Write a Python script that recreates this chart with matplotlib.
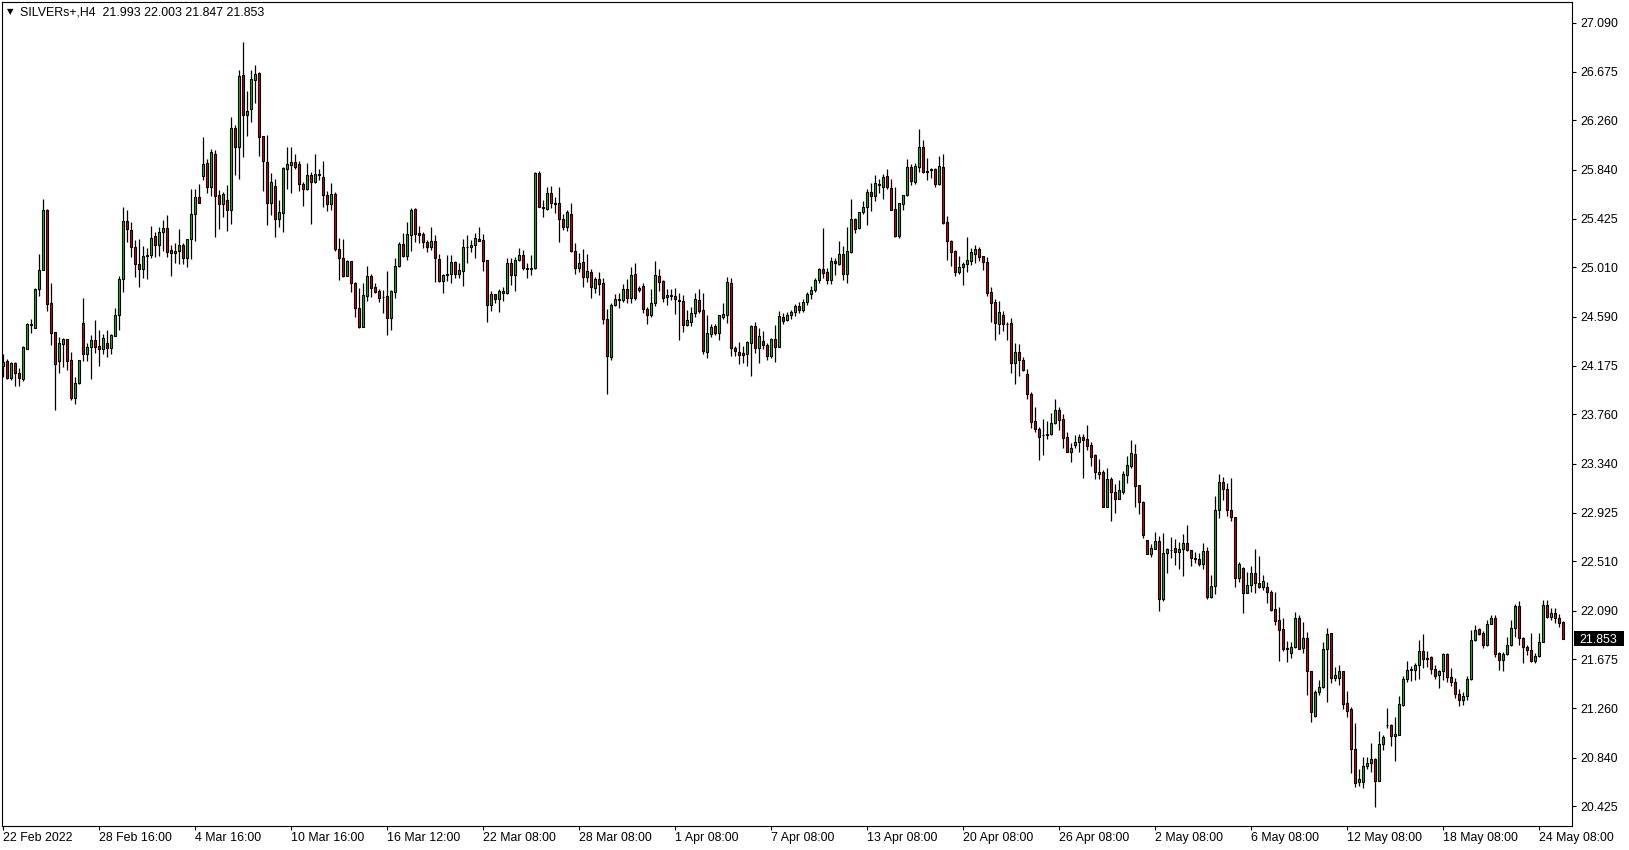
import matplotlib
matplotlib.use("Agg")
import matplotlib.pyplot as plt
import numpy as np
from matplotlib.patches import Rectangle
from matplotlib.transforms import blended_transform_factory

symbol_title = "SILVERs+,H4"
header_values = "21.993 22.003 21.847 21.853"

opens = [
 24.174,24.214,24.072,24.197,24.112,24.064,24.319,24.518,24.498,24.824,
 24.986,25.499,24.705,24.458,24.217,24.362,24.401,24.220,23.899,24.024,
 24.535,24.277,24.330,24.390,24.342,24.313,24.367,24.322,24.430,24.603,
 24.909,25.402,25.329,25.181,25.037,24.994,25.104,25.113,25.275,25.198,
 25.311,25.345,25.158,25.130,25.147,25.198,25.087,25.249,25.465,25.609,
 25.791,25.901,25.697,25.972,25.626,25.552,25.581,25.499,26.196,26.037,
 26.647,26.310,26.361,26.605,26.667,26.128,25.904,25.555,25.700,25.419,
 25.470,25.844,25.878,25.904,25.887,25.717,25.674,25.796,25.734,25.805,
 25.776,25.623,25.549,25.632,25.164,25.090,24.940,25.064,24.880,24.662,
 24.506,24.764,24.937,24.840,24.809,24.760,24.764,24.582,24.803,25.022,
 25.209,25.110,25.285,25.507,25.300,25.291,25.223,25.183,25.234,25.078,
 24.897,24.942,24.950,25.053,24.950,24.982,25.180,25.180,25.198,25.249,
 25.240,25.070,24.687,24.781,24.744,24.809,24.789,25.044,24.942,25.070,
 25.112,25.002,24.999,25.002,25.810,25.521,25.510,25.640,25.555,25.555,
 25.419,25.356,25.464,25.152,25.008,25.053,24.925,24.970,24.832,24.908,
 24.877,24.568,24.250,24.687,24.730,24.735,24.823,24.752,24.954,24.815,
 24.849,24.653,24.602,24.705,24.937,24.891,24.755,24.772,24.764,24.730,
 24.721,24.523,24.543,24.619,24.730,24.645,24.288,24.446,24.511,24.455,
 24.591,24.608,24.874,24.324,24.290,24.281,24.276,24.370,24.509,24.321,
 24.384,24.347,24.259,24.401,24.336,24.585,24.565,24.602,24.630,24.680,
 24.650,24.720,24.780,24.820,24.903,24.994,24.968,24.903,25.065,25.040,
 25.122,24.951,25.141,25.419,25.348,25.479,25.521,25.649,25.621,25.711,
 25.692,25.785,25.686,25.504,25.280,25.547,25.624,25.867,25.740,25.868,
 26.035,25.827,25.836,25.845,25.723,25.865,25.394,25.235,25.147,24.974,
 25.011,25.040,25.068,25.125,25.167,25.105,25.054,24.799,24.713,24.532,
 24.603,24.532,24.535,24.195,24.288,24.220,24.104,23.937,23.701,23.638,
 23.587,23.587,23.590,23.683,23.797,23.718,23.564,23.442,23.502,23.522,
 23.564,23.547,23.499,23.411,23.250,23.269,22.974,23.207,23.099,23.043,
 23.102,23.247,23.323,23.423,23.159,23.014,22.691,22.575,22.617,22.680,
 22.189,22.577,22.608,22.620,22.586,22.615,22.663,22.603,22.535,22.527,
 22.490,22.595,22.209,22.297,22.944,23.182,23.122,22.944,22.884,22.365,
 22.453,22.243,22.306,22.408,22.323,22.294,22.291,22.252,22.101,22.011,
 21.931,21.772,21.727,21.778,22.025,21.775,21.855,21.577,21.191,21.395,
 21.443,21.761,21.897,21.520,21.520,21.577,21.302,21.253,20.910,20.630,
 20.630,20.766,20.791,20.825,20.644,20.953,21.114,21.114,21.021,21.035,
 21.285,21.512,21.582,21.588,21.625,21.744,21.682,21.693,21.591,21.540,
 21.577,21.719,21.529,21.480,21.380,21.330,21.360,21.509,21.841,21.931,
 21.903,21.798,21.977,22.025,21.727,21.670,21.721,21.798,21.940,22.130,
 21.855,21.778,21.756,21.662,21.704,21.826,22.138,22.033,22.073,22.025,
 21.993]
highs = [
 24.274,24.228,24.206,24.206,24.152,24.342,24.535,24.571,24.832,25.124,
 25.592,25.507,24.878,24.458,24.421,24.410,24.405,24.288,24.078,24.225,
 24.750,24.364,24.433,24.563,24.481,24.444,24.478,24.444,24.662,24.937,
 25.522,25.499,25.394,25.244,25.252,25.192,25.172,25.362,25.314,25.357,
 25.413,25.456,25.201,25.215,25.337,25.215,25.252,25.677,25.677,25.723,
 26.122,25.930,26.015,26.012,25.669,25.649,25.711,26.287,26.219,26.690,
 26.928,26.514,26.690,26.735,26.670,26.130,26.138,25.813,25.759,25.583,
 25.867,26.032,26.032,25.975,25.915,25.739,25.895,25.819,25.975,25.847,
 25.912,25.663,25.725,25.652,25.257,25.252,25.073,25.067,24.882,24.835,
 24.874,25.022,24.951,24.874,24.823,24.821,24.977,24.821,25.087,25.223,
 25.302,25.396,25.518,25.518,25.362,25.314,25.243,25.353,25.285,25.124,
 24.956,25.115,25.115,25.067,25.047,25.251,25.285,25.243,25.300,25.353,
 25.294,25.072,24.806,24.784,24.829,24.840,25.087,25.087,25.098,25.172,
 25.160,25.045,25.115,25.819,25.830,25.583,25.697,25.702,25.612,25.691,
 25.461,25.498,25.558,25.215,25.129,25.163,25.121,24.999,24.931,24.968,
 24.917,24.656,24.710,24.786,24.789,24.869,24.908,25.013,25.047,24.849,
 24.877,24.676,24.823,25.064,24.996,24.903,24.823,24.826,24.835,24.795,
 24.775,24.645,24.676,24.792,24.826,24.792,24.605,24.526,24.526,24.605,
 24.707,24.928,24.917,24.338,24.375,24.341,24.387,24.523,24.545,24.492,
 24.469,24.364,24.412,24.523,24.639,24.619,24.630,24.650,24.700,24.720,
 24.740,24.800,24.850,24.920,25.002,25.343,25.002,25.102,25.088,25.235,
 25.192,25.354,25.592,25.428,25.485,25.572,25.675,25.728,25.797,25.762,
 25.802,25.848,25.760,25.692,25.561,25.627,25.933,25.887,25.896,26.190,
 26.090,25.939,25.859,25.853,25.956,25.973,25.448,25.244,25.156,25.105,
 25.059,25.266,25.173,25.201,25.184,25.108,25.096,24.841,24.742,24.728,
 24.642,24.543,24.577,24.367,24.356,24.248,24.143,23.951,23.823,23.656,
 23.721,23.703,23.769,23.890,23.820,23.763,23.613,23.519,23.587,23.593,
 23.596,23.669,23.525,23.420,23.377,23.286,23.301,23.224,23.167,23.201,
 23.281,23.406,23.542,23.508,23.162,23.020,22.694,22.657,22.762,22.725,
 22.748,22.620,22.714,22.697,22.677,22.742,22.819,22.606,22.586,22.578,
 22.663,22.629,22.391,23.066,23.253,23.230,23.176,23.219,22.887,22.504,
 22.464,22.419,22.470,22.615,22.555,22.393,22.331,22.269,22.249,22.121,
 22.028,21.835,21.823,22.079,22.056,21.994,21.906,21.580,21.415,21.500,
 21.824,21.940,21.900,21.608,21.628,21.580,21.407,21.273,21.132,20.740,
 20.845,20.848,20.964,20.837,21.063,21.032,21.262,21.123,21.185,21.364,
 21.537,21.662,21.616,21.642,21.838,21.889,21.747,21.707,21.630,21.585,
 21.727,21.727,21.600,21.520,21.420,21.400,21.530,21.926,21.968,21.940,
 21.917,22.011,22.053,22.053,21.741,21.741,21.869,22.011,22.144,22.172,
 21.869,21.798,21.897,21.727,21.903,22.181,22.181,22.110,22.110,22.062,
 22.003]
lows = [
 24.081,24.061,24.055,24.004,24.004,24.047,24.313,24.455,24.492,24.767,
 24.986,24.640,24.353,23.797,24.115,24.166,24.135,23.879,23.851,24.020,
 24.211,24.211,24.064,24.285,24.174,24.274,24.245,24.274,24.428,24.478,
 24.804,25.224,25.102,24.932,24.841,24.920,24.909,25.090,25.102,25.107,
 25.147,25.102,24.937,25.050,25.036,25.036,25.016,25.079,25.232,25.558,
 25.754,25.640,25.620,25.266,25.334,25.436,25.323,25.379,25.799,25.759,
 25.947,26.128,26.250,26.406,25.958,25.660,25.374,25.456,25.266,25.351,
 25.308,25.680,25.640,25.844,25.657,25.530,25.672,25.376,25.725,25.754,
 25.527,25.487,25.498,25.152,24.900,24.931,24.937,24.801,24.591,24.494,
 24.503,24.721,24.758,24.795,24.713,24.625,24.432,24.480,24.752,25.010,
 25.101,25.075,25.152,25.223,25.214,25.178,25.144,25.158,24.888,24.888,
 24.795,24.897,24.874,24.917,24.922,24.854,25.044,25.138,25.087,25.232,
 24.982,24.548,24.642,24.710,24.633,24.727,24.786,24.860,24.812,25.064,
 24.985,24.922,24.945,24.999,25.524,25.441,25.498,25.512,25.475,25.229,
 25.328,25.322,25.144,24.951,24.973,24.846,24.888,24.752,24.789,24.775,
 24.531,23.935,24.222,24.684,24.662,24.713,24.710,24.704,24.732,24.798,
 24.625,24.531,24.588,24.684,24.809,24.718,24.690,24.730,24.616,24.395,
 24.463,24.514,24.509,24.591,24.625,24.276,24.242,24.421,24.432,24.395,
 24.568,24.540,24.256,24.256,24.185,24.197,24.171,24.089,24.284,24.199,
 24.316,24.225,24.242,24.208,24.333,24.531,24.557,24.570,24.600,24.620,
 24.630,24.690,24.740,24.800,24.880,24.917,24.870,24.870,24.946,25.034,
 24.900,24.880,25.136,25.306,25.337,25.468,25.371,25.493,25.575,25.641,
 25.589,25.675,25.496,25.272,25.258,25.502,25.621,25.711,25.717,25.825,
 25.811,25.757,25.768,25.695,25.712,25.377,25.074,25.023,24.937,24.954,
 24.861,24.971,25.031,25.051,25.068,24.988,24.770,24.546,24.393,24.444,
 24.470,24.393,24.115,24.021,24.089,24.129,23.894,23.647,23.607,23.375,
 23.415,23.553,23.584,23.678,23.627,23.476,23.437,23.357,23.471,23.442,
 23.221,23.457,23.320,23.207,23.213,22.971,22.971,22.855,22.923,23.037,
 23.079,23.173,23.301,22.974,22.909,22.708,22.572,22.543,22.611,22.090,
 22.172,22.413,22.535,22.481,22.442,22.388,22.601,22.467,22.493,22.473,
 22.447,22.186,22.198,22.235,22.881,23.032,22.895,22.853,22.289,22.337,
 22.073,22.238,22.246,22.243,22.286,22.266,22.158,22.084,21.971,21.665,
 21.744,21.656,21.690,21.775,21.761,21.733,21.373,21.146,21.188,21.370,
 21.435,21.316,21.472,21.495,21.455,21.253,21.188,20.712,20.593,20.601,
 20.584,20.743,20.720,20.423,20.641,20.905,21.092,20.941,20.814,21.032,
 21.279,21.486,21.495,21.503,21.509,21.602,21.614,21.548,21.509,21.430,
 21.500,21.480,21.450,21.350,21.280,21.290,21.330,21.500,21.835,21.883,
 21.775,21.790,21.974,21.699,21.585,21.580,21.713,21.792,21.869,21.798,
 21.642,21.713,21.656,21.648,21.699,21.821,22.025,22.011,21.982,21.954,
 21.847]
closes = [
 24.208,24.072,24.197,24.109,24.072,24.336,24.529,24.526,24.827,24.988,
 25.499,24.702,24.455,24.186,24.364,24.401,24.217,23.899,24.024,24.220,
 24.277,24.333,24.390,24.336,24.313,24.407,24.322,24.433,24.603,24.909,
 25.402,25.334,25.181,25.037,24.994,25.104,25.113,25.257,25.198,25.311,
 25.345,25.138,25.130,25.150,25.198,25.087,25.249,25.465,25.609,25.561,
 25.887,25.697,25.989,25.620,25.552,25.632,25.499,26.196,26.037,26.639,
 26.310,26.341,26.613,26.656,26.122,25.913,25.555,25.734,25.419,25.481,
 25.853,25.887,25.904,25.867,25.717,25.680,25.793,25.734,25.805,25.796,
 25.623,25.549,25.632,25.164,25.090,24.940,25.064,24.874,24.662,24.506,
 24.775,24.937,24.838,24.801,24.752,24.758,24.582,24.806,25.022,25.209,
 25.110,25.294,25.498,25.291,25.285,25.223,25.183,25.234,25.087,24.897,
 24.942,24.950,25.053,24.950,24.985,25.180,25.183,25.200,25.257,25.234,
 25.067,24.687,24.781,24.744,24.809,24.789,25.044,24.942,25.070,25.112,
 25.002,24.999,25.002,25.810,25.526,25.512,25.640,25.555,25.546,25.419,
 25.356,25.478,25.152,25.002,25.044,24.925,24.976,24.840,24.908,24.866,
 24.574,24.259,24.687,24.738,24.741,24.823,24.752,24.942,24.752,24.835,
 24.653,24.602,24.707,24.945,24.889,24.747,24.775,24.764,24.738,24.721,
 24.523,24.560,24.619,24.738,24.639,24.296,24.452,24.500,24.455,24.602,
 24.613,24.883,24.321,24.301,24.267,24.267,24.375,24.509,24.321,24.423,
 24.347,24.259,24.401,24.336,24.594,24.557,24.602,24.630,24.680,24.650,
 24.720,24.780,24.820,24.900,24.994,24.966,24.903,25.065,25.048,25.122,
 24.951,25.147,25.419,25.334,25.479,25.521,25.649,25.621,25.726,25.720,
 25.780,25.692,25.499,25.280,25.555,25.624,25.862,25.743,25.870,26.035,
 25.825,25.822,25.845,25.723,25.870,25.388,25.238,25.139,24.974,25.011,
 25.040,25.071,25.142,25.170,25.102,25.054,24.796,24.711,24.535,24.628,
 24.529,24.527,24.200,24.288,24.220,24.135,23.931,23.698,23.636,23.570,
 23.581,23.592,23.683,23.797,23.712,23.562,23.442,23.471,23.522,23.564,
 23.542,23.493,23.400,23.267,23.269,22.974,23.210,23.096,23.043,23.116,
 23.252,23.326,23.434,23.153,23.011,22.736,22.575,22.620,22.680,22.186,
 22.577,22.614,22.606,22.592,22.612,22.663,22.606,22.535,22.530,22.490,
 22.595,22.209,22.297,22.944,23.182,23.122,22.944,22.884,22.365,22.487,
 22.243,22.306,22.408,22.323,22.294,22.340,22.252,22.096,22.005,21.926,
 21.761,21.761,21.778,22.025,21.767,21.855,21.577,21.231,21.395,21.443,
 21.761,21.889,21.520,21.543,21.577,21.293,21.239,20.910,20.621,20.655,
 20.766,20.791,20.825,20.644,20.953,21.012,21.120,21.021,21.041,21.293,
 21.512,21.582,21.594,21.625,21.744,21.682,21.690,21.597,21.537,21.577,
 21.719,21.529,21.480,21.380,21.330,21.360,21.510,21.841,21.926,21.889,
 21.798,21.977,22.025,21.721,21.670,21.721,21.798,21.940,22.130,21.855,
 21.784,21.756,21.662,21.704,21.826,22.138,22.033,22.073,22.025,21.982,
 21.853]

date_labels = ["22 Feb 2022", "28 Feb 16:00", "4 Mar 16:00", "10 Mar 16:00",
               "16 Mar 12:00", "22 Mar 08:00", "28 Mar 08:00", "1 Apr 08:00",
               "7 Apr 08:00", "13 Apr 08:00", "20 Apr 08:00", "26 Apr 08:00",
               "2 May 08:00", "6 May 08:00", "12 May 08:00", "18 May 08:00",
               "24 May 08:00"]
bars_per_label = 24
price_ticks = [27.090, 26.675, 26.260, 25.840, 25.425, 25.010, 24.590, 24.175,
               23.760, 23.340, 22.925, 22.510, 22.090, 21.675, 21.260, 20.840,
               20.425]
last_price = 21.853

W, H = 1629, 850
FS = 8.9
font = ["Liberation Sans", "DejaVu Sans"]
fig = plt.figure(figsize=(W / 100, H / 100), dpi=100)
fig.patch.set_facecolor("white")
ax = fig.add_axes([2 / W, 24 / H, 1570 / W, 824 / H])

o = np.array(opens); h = np.array(highs); l = np.array(lows); c = np.array(closes)
x = np.arange(len(o))
up = c >= o
body_colors = np.where(up, "#00c800", "#dc0000")

ax.vlines(x, l, h, color="black", linewidth=0.9, zorder=1)
ax.bar(x, np.abs(c - o), bottom=np.minimum(o, c), width=0.5,
       color=body_colors, edgecolor="black", linewidth=0.8, zorder=2)

ax.set_xlim(-0.325, 392.175)
ax.set_ylim(20.258, 27.268)

for s in ax.spines.values():
    s.set_color("black")
    s.set_linewidth(0.8)

ax.yaxis.tick_right()
ax.set_yticks(price_ticks)
ax.set_yticklabels([f"{v:.3f}" for v in price_ticks], fontsize=FS, family=font)
ax.tick_params(axis="y", direction="out", length=3, width=0.8, pad=3, colors="black")

xpos = [k * bars_per_label for k in range(len(date_labels))]
ax.set_xticks(xpos)
ax.set_xticklabels(date_labels, fontsize=FS, family=font, ha="left")
ax.tick_params(axis="x", direction="out", length=3, width=0.8, pad=1.5, colors="black")

# current price marker on the price scale
trans = blended_transform_factory(ax.transAxes, ax.transData)
px_w = 1.0 / 1570
price_per_px = (27.268 - 20.258) / 824
ax.add_patch(Rectangle((1.0 + 2 * px_w, last_price - 7.5 * price_per_px), 50 * px_w,
                       15 * price_per_px, transform=trans, facecolor="black",
                       edgecolor="none", clip_on=False, zorder=5))
ax.text(1.0 + 7 * px_w, last_price, f"{last_price:.3f}", transform=trans,
        ha="left", va="center_baseline", fontsize=FS, family=font, color="white",
        zorder=6, clip_on=False)

fig.text(10 / W, 1 - 12 / H, "\u25bc", fontsize=6, family=["DejaVu Sans"],
         ha="center", va="center", color="black")
fig.text(20.5 / W, 1 - 12.5 / H, f"{symbol_title}  {header_values}", fontsize=FS,
         family=font, ha="left", va="center", color="black")

fig.savefig("out.png", dpi=100, facecolor="white")
